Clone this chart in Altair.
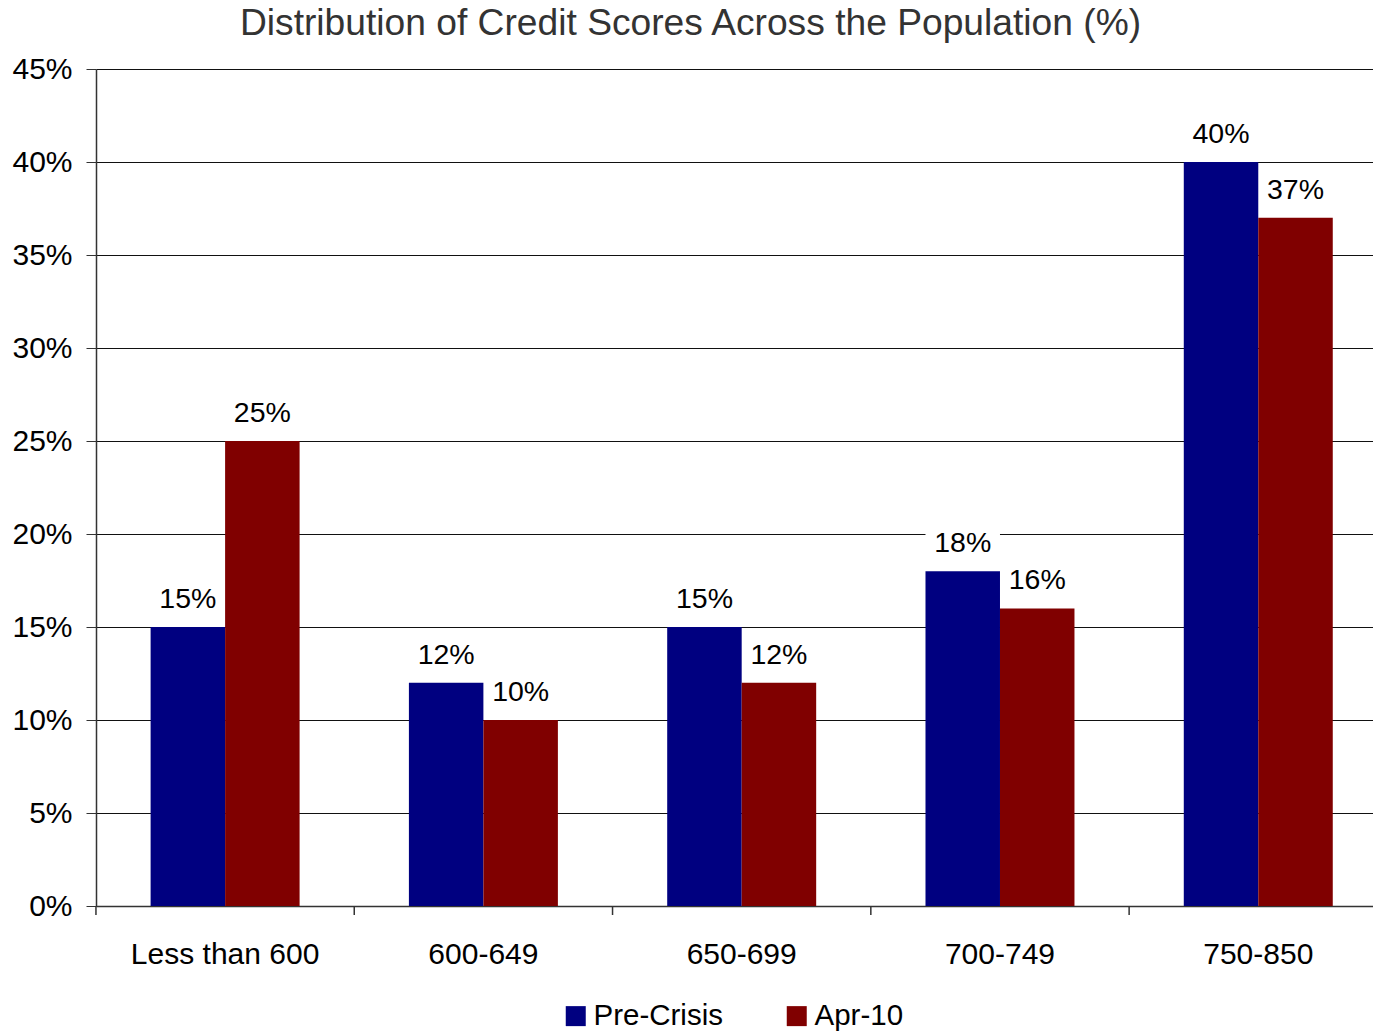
import altair as alt
import pandas as pd

# Credit score bands and the share of the population in each (percent)
categories = ["Less than 600", "600-649", "650-699", "700-749", "750-850"]
series = ["Pre-Crisis", "Apr-10"]
pre_crisis = [15, 12, 15, 18, 40]
apr_10 = [25, 10, 12, 16, 37]
y_ticks = [0, 5, 10, 15, 20, 25, 30, 35, 40, 45]
series_colors = ["#000080", "#800000"]

rows = []
for cat, a, b in zip(categories, pre_crisis, apr_10):
    rows.append({"band": cat, "series": series[0], "share": a})
    rows.append({"band": cat, "series": series[1], "share": b})
df = pd.DataFrame(rows)
df["label"] = df["share"].astype(str) + "%"
bands_df = pd.DataFrame({"band": categories})

FONT = "Liberation Sans"
INK = "#000000"
LINE = "#333333"
STEP = 258.3  # width of one category slot in pixels

x_scale = alt.Scale(paddingInner=0.4232, paddingOuter=0.1836, align=0.5758, round=False)

x_enc = alt.X(
    "band:N",
    sort=categories,
    scale=x_scale,
    axis=alt.Axis(
        title=None,
        labelAngle=0,
        labelFont=FONT,
        labelFontSize=30,
        labelColor=INK,
        labelPadding=24,
        labelLimit=0,
        tickSize=9,
        tickOpacity=0,
        domainColor=LINE,
        domainWidth=1.5,
    ),
)
xo_enc = alt.XOffset("series:N", sort=series)
y_enc = alt.Y(
    "share:Q",
    scale=alt.Scale(domain=[0, 45], nice=False, zero=True),
    axis=alt.Axis(
        title=None,
        values=y_ticks,
        labelExpr="datum.value + '%'",
        labelFont=FONT,
        labelFontSize=30,
        labelColor=INK,
        labelPadding=14,
        tickSize=10,
        tickColor=LINE,
        tickWidth=1,
        domainColor=LINE,
        domainWidth=1.5,
        grid=True,
        gridColor="#111111",
        gridWidth=1,
    ),
)

base = alt.Chart(df)

# white boxes behind the value labels (they cut through the gridlines)
label_boxes = base.mark_bar(color="white", y2Offset=-44).encode(
    x=x_enc, xOffset=xo_enc, y=y_enc, y2="share:Q"
)

bars = base.mark_bar().encode(
    x=x_enc,
    xOffset=xo_enc,
    y=y_enc,
    color=alt.Color(
        "series:N",
        sort=series,
        scale=alt.Scale(domain=series, range=series_colors),
        legend=alt.Legend(
            title=None,
            orient="none",
            direction="horizontal",
            legendX=465,
            legendY=932,
            symbolType="square",
            symbolSize=400,
            symbolStrokeWidth=0,
            labelFont=FONT,
            labelFontSize=29.5,
            labelColor=INK,
            labelOffset=3,
            columnPadding=59,
            padding=0,
        ),
    ),
)

labels = base.mark_text(
    font=FONT, fontSize=28.5, color=INK, baseline="alphabetic", dy=-19
).encode(x=x_enc, xOffset=xo_enc, y=y_enc, text="label:N")

# category boundary ticks below the x axis, half a slot left of each band centre
boundary_ticks = (
    alt.Chart(bands_df)
    .mark_rule(color=LINE, strokeWidth=1.5, xOffset=-STEP / 2)
    .encode(x=alt.X("band:N", sort=categories, scale=x_scale), y=alt.value(837), y2=alt.value(846))
)

chart = (
    alt.layer(label_boxes, bars, labels, boundary_ticks)
    .properties(
        width=1277,
        height=837,
        autosize="none",
        padding={"left": 96, "top": 69, "right": 0, "bottom": 125},
        title=alt.TitleParams(
            "Distribution of Credit Scores Across the Population (%)",
            font=FONT,
            fontSize=37.2,
            fontWeight="normal",
            color="#333333",
            anchor="middle",
            baseline="alphabetic",
            dx=-44,
            dy=38,
            offset=20,
        ),
    )
    .configure_view(stroke=None)
)

chart.save("out.html", embed_options={"renderer": "svg", "actions": False})
